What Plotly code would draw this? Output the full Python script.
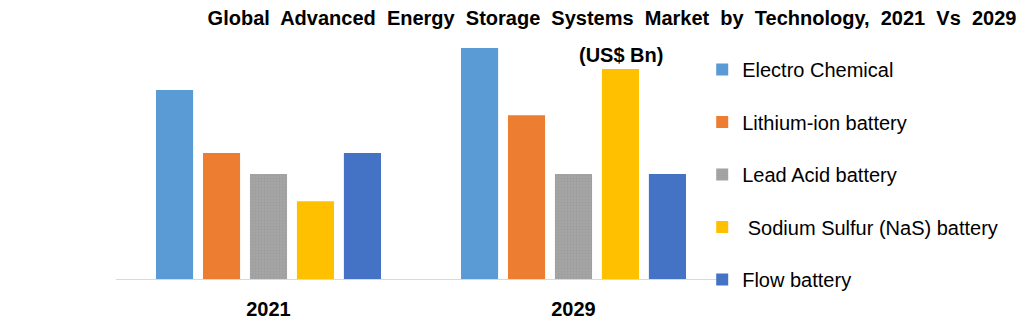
import plotly.graph_objects as go

years = ["2021", "2029"]
technologies = ["Electro Chemical", "Lithium-ion battery", "Lead Acid battery",
                " Sodium Sulfur (NaS) battery", "Flow battery"]
electro_chemical = [9.0, 11.0]
lithium_ion = [6.0, 7.8]
lead_acid = [5.0, 5.0]
sodium_sulfur = [3.7, 10.0]
flow_battery = [6.0, 5.0]
series = [electro_chemical, lithium_ion, lead_acid, sodium_sulfur, flow_battery]
colors = ["#5B9BD5", "#ED7D31", "#A5A5A5", "#FFC000", "#4472C4"]

fig = go.Figure()
for i, (name, vals, col) in enumerate(zip(technologies, series, colors)):
    marker = dict(color=col, line=dict(width=0))
    if i == 2:
        marker["pattern"] = dict(shape=".", fgcolor="#959595", bgcolor=col, size=3, solidity=0.4)
    fig.add_trace(go.Bar(x=years, y=vals, name=name, marker=marker, legendgroup=f"g{i}"))

fig.update_layout(
    width=1032, height=322,
    margin=dict(l=116, r=306, t=30, b=43, autoexpand=False),
    paper_bgcolor="white", plot_bgcolor="white",
    barmode="group", bargap=0.23, bargroupgap=0.21,
    font=dict(family="Liberation Sans, Arial, sans-serif", color="#000000"),
    title=dict(text="<b>Global  Advanced  Energy  Storage  Systems  Market  by  Technology,  2021  Vs  2029</b>",
               x=(612 - 116) / 610, xref="paper", xanchor="center", y=0.944, yref="container",
               yanchor="middle", font=dict(size=20, color="#000000")),
    showlegend=True,
    legend=dict(x=0.961, xanchor="left", y=0.92, yanchor="top", yref="paper",
                font=dict(size=20, color="#000000"), tracegroupgap=23.5,
                traceorder="grouped", bgcolor="rgba(0,0,0,0)", maxheight=322),
    xaxis=dict(showline=True, linecolor="#D9D9D9", linewidth=1, ticks="",
               tickfont=dict(size=20, color="#000000", family="Liberation Sans, Arial, sans-serif"),
               tickprefix="<b>", ticksuffix="</b>", ticklabelstandoff=12),
    yaxis=dict(visible=False, range=[0, 11.86]),
)
fig.add_annotation(text="<b>(US$ Bn)</b>", xref="paper", yref="paper", x=(621 - 116) / 610, y=0.9,
                   xanchor="center", yanchor="middle", showarrow=False,
                   font=dict(size=20, color="#000000"))

fig.write_html("out.html")
